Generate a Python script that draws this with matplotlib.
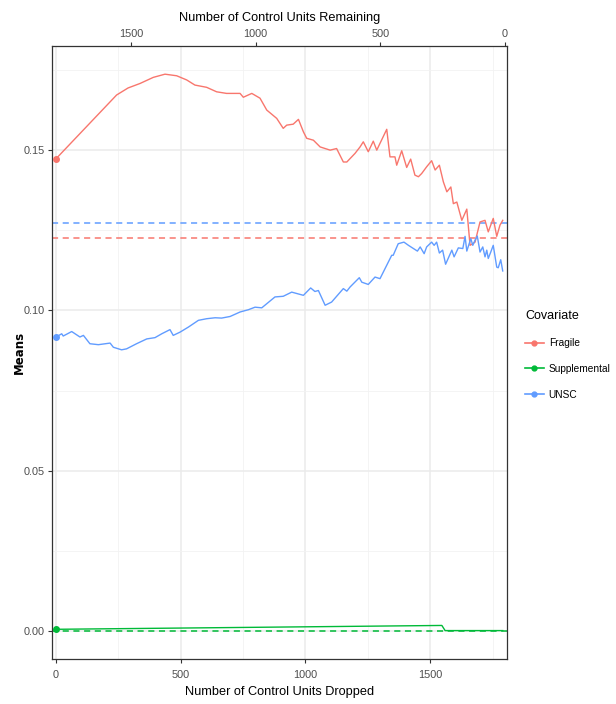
import numpy as np
import matplotlib.pyplot as plt
from matplotlib.lines import Line2D

plt.rcParams['font.family'] = ['Liberation Sans Narrow', 'Liberation Sans', 'DejaVu Sans']

# total control units before pruning
n_control = 1800

covariates = ["Fragile", "Supplemental", "UNSC"]
colors = ["#F8766D", "#00BA38", "#619CFF"]
target_means = [0.1226, 0.0, 0.1272]   # treated-group means (dashed)

fragile_x = [0, 243, 289, 337, 390, 437, 484, 524, 557, 604, 644, 684, 738, 751, 785,
             818, 845, 885, 911, 925, 951, 972, 992, 1005, 1032, 1059, 1099, 1125, 1152,
             1166, 1199, 1219, 1232, 1252, 1272, 1286, 1326, 1339, 1359, 1366, 1386, 1406,
             1422, 1439, 1453, 1466, 1486, 1506, 1520, 1537, 1553, 1567, 1583, 1593, 1607,
             1627, 1647, 1660, 1680, 1700, 1720, 1733, 1753, 1767, 1780, 1791]
fragile_y = [0.1473, 0.1672, 0.1694, 0.1708, 0.1727, 0.1737, 0.1732, 0.1719, 0.1703, 0.1696,
             0.1682, 0.1677, 0.1677, 0.1665, 0.1677, 0.1662, 0.1625, 0.1599, 0.1568, 0.1578,
             0.1581, 0.1596, 0.1557, 0.1537, 0.1531, 0.1510, 0.1500, 0.1505, 0.1463, 0.1463,
             0.1490, 0.1510, 0.1526, 0.1495, 0.1528, 0.1500, 0.1565, 0.1479, 0.1479, 0.1453,
             0.1498, 0.1446, 0.1472, 0.1422, 0.1417, 0.1427, 0.1448, 0.1467, 0.1438, 0.1453,
             0.1401, 0.1370, 0.1385, 0.1333, 0.1338, 0.1281, 0.1316, 0.1203, 0.1213, 0.1276,
             0.1281, 0.1245, 0.1287, 0.1231, 0.1266, 0.1281]

supp_x = [0, 1547, 1560, 1791]
supp_y = [0.0005, 0.0017, 0.0001, 0.0001]

unsc_x = [0, 23, 29, 63, 96, 110, 136, 170, 217, 230, 263, 283, 323, 364, 397, 424, 457,
          470, 497, 531, 571, 604, 638, 664, 698, 738, 771, 798, 825, 878, 911, 945, 992,
          1021, 1038, 1052, 1079, 1105, 1152, 1166, 1179, 1216, 1226, 1252, 1279, 1299,
          1346, 1352, 1372, 1395, 1413, 1433, 1449, 1460, 1476, 1486, 1506, 1516, 1526,
          1537, 1550, 1562, 1587, 1596, 1613, 1631, 1640, 1647, 1663, 1671, 1680, 1689,
          1700, 1711, 1720, 1727, 1733, 1743, 1753, 1767, 1773, 1783, 1791]
unsc_y = [0.0917, 0.0927, 0.0920, 0.0934, 0.0917, 0.0922, 0.0896, 0.0893, 0.0898, 0.0885,
          0.0877, 0.0880, 0.0896, 0.0911, 0.0915, 0.0927, 0.0940, 0.0922, 0.0932, 0.0948,
          0.0969, 0.0974, 0.0977, 0.0976, 0.0981, 0.0995, 0.1002, 0.1010, 0.1008, 0.1042,
          0.1044, 0.1057, 0.1047, 0.1070, 0.1059, 0.1062, 0.1016, 0.1026, 0.1068, 0.1060,
          0.1073, 0.1102, 0.1088, 0.1081, 0.1104, 0.1099, 0.1172, 0.1172, 0.1208, 0.1213,
          0.1203, 0.1193, 0.1185, 0.1198, 0.1177, 0.1198, 0.1213, 0.1203, 0.1213, 0.1179,
          0.1188, 0.1144, 0.1188, 0.1167, 0.1195, 0.1193, 0.1231, 0.1185, 0.1224, 0.1203,
          0.1219, 0.1232, 0.1182, 0.1198, 0.1167, 0.1188, 0.1162, 0.1182, 0.1203, 0.1135,
          0.1133, 0.1158, 0.1123]

series = [(fragile_x, fragile_y), (supp_x, supp_y), (unsc_x, unsc_y)]

fig = plt.figure(figsize=(6.16, 7.04), dpi=100)
ax = fig.add_axes([0.0844, 0.064, 0.7386, 0.8707])

# grid like theme_bw
ax.set_xticks([0, 500, 1000, 1500])
ax.set_xticks([250, 750, 1250, 1750], minor=True)
ax.set_yticks([0.0, 0.05, 0.10, 0.15])
ax.set_yticks([0.025, 0.075, 0.125, 0.175], minor=True)
ax.grid(which='major', color='#ebebeb', lw=1.1)
ax.grid(which='minor', color='#f2f2f2', lw=0.6)
ax.set_axisbelow(True)

for (xs, ys), col, tgt in zip(series, colors, target_means):
    ax.axhline(tgt, color=col, lw=1.1, ls=(0, (4, 3)), zorder=2)
    ax.plot(xs, ys, color=col, lw=1.0, zorder=3)
    ax.plot(xs[0], ys[0], 'o', color=col, ms=4, zorder=4)

ax.set_xlim(-16, 1808)
ax.set_ylim(-0.00875, 0.1825)
ax.set_yticklabels(["0.00", "0.05", "0.10", "0.15"])

ax.tick_params(which='minor', length=0)
ax.tick_params(which='major', length=3, width=0.8, color='#333333',
               labelsize=7.8, labelcolor='#4d4d4d', pad=2)
ax.tick_params(axis='x', pad=5)
for s in ax.spines.values():
    s.set_color('#333333')
    s.set_linewidth(0.9)

ax.set_xlabel("Number of Control Units Dropped", fontsize=9.2, labelpad=4)
ax.set_ylabel("Means", fontsize=8.5, fontweight='bold', family='DejaVu Sans')
ax.yaxis.set_label_coords(-0.058, 0.5)

top = ax.secondary_xaxis('top', functions=(lambda x: n_control - x, lambda x: n_control - x))
top.set_xticks([0, 500, 1000, 1500])
top.tick_params(length=3, width=0.8, color='#333333', labelsize=7.8,
                labelcolor='#4d4d4d', pad=2)
top.set_xlabel("Number of Control Units Remaining", fontsize=9.2, labelpad=6)
top.spines['top'].set_visible(False)

handles = [Line2D([0], [0], color=c, lw=1.2, marker='o', ms=3.5) for c in colors]
fig.legend(handles, covariates, title="Covariate", loc='upper left',
           bbox_to_anchor=(0.838, 0.572), frameon=False, fontsize=7.3,
           title_fontsize=9, handlelength=1.8, handletextpad=0.5,
           labelspacing=1.55, alignment='left')

fig.savefig("out.png", dpi=100)
